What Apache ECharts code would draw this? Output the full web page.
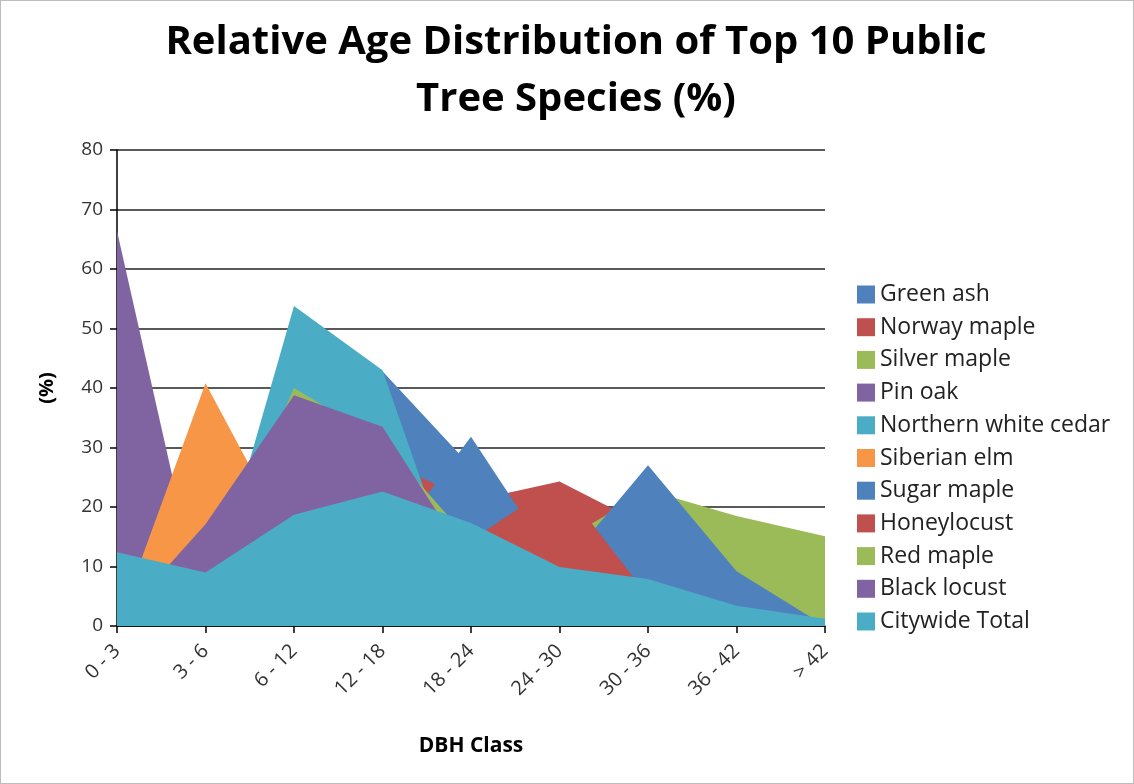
<!DOCTYPE html>
<html>
<head>
<meta charset="utf-8">
<script src="https://cdn.jsdelivr.net/npm/echarts@6/dist/echarts.min.js"></script>
<style>
  html, body { margin: 0; padding: 0; background: #fff; }
  #chart { width: 1134px; height: 784px; box-sizing: border-box; border: 1px solid #bdbdbd; }
</style>
</head>
<body>
<div id="chart"></div>
<script>
// DBH size classes (inches)
const categories = ['0 - 3', '3 - 6', '6 - 12', '12 - 18', '18 - 24', '24 - 30', '30 - 36', '36 - 42', '> 42'];

// Percent of each species' trees falling in each DBH class
const greenAsh           = [3, 5, 25, 42.8, 26.8, 12, 5, 2, 0.5];
const norwayMaple        = [5, 8, 20, 28, 21, 24.3, 16.7, 8, 2];
const silverMaple        = [5, 5, 15, 20, 12, 14, 22.8, 18.5, 15.1];
const pinOak             = [66.4, 0.5, 10, 8, 5, 3, 2, 1, 0.5];
const northernWhiteCedar = [0.5, 2, 53.8, 43.0, 0.4, 0.3, 0.2, 0.1, 0];
const siberianElm        = [0, 40.8, 13, 8, 4, 2, 1, 0.5, 0.3];
const sugarMaple         = [3, 4, 8, 12.2, 31.8, 9.3, 27.0, 9.2, 0];
const honeylocust        = [2, 3, 5, 10, 14.4, 24.3, 5.0, 2, 0.5];
const redMaple           = [5, 6, 40, 31, 14.1, 8, 5, 2, 0.5];
const blackLocust        = [0.5, 17.1, 38.8, 33.5, 10.2, 5, 4, 2, 0.5];
const citywideTotal      = [12.4, 9.0, 18.7, 22.6, 17.3, 9.9, 7.9, 3.4, 1.2];

const yTicks = { min: 0, max: 80, interval: 10 };

const BLUE = '#4F81BD', RED = '#C0504D', GREEN = '#9BBB59',
      PURPLE = '#8064A2', CYAN = '#4BACC6', ORANGE = '#F79646';

// Later entries are painted over earlier ones
const seriesDefs = [
  ['Green ash', greenAsh, BLUE],
  ['Norway maple', norwayMaple, RED],
  ['Silver maple', silverMaple, GREEN],
  ['Pin oak', pinOak, PURPLE],
  ['Northern white cedar', northernWhiteCedar, CYAN],
  ['Siberian elm', siberianElm, ORANGE],
  ['Sugar maple', sugarMaple, BLUE],
  ['Honeylocust', honeylocust, RED],
  ['Red maple', redMaple, GREEN],
  ['Black locust', blackLocust, PURPLE],
  ['Citywide Total', citywideTotal, CYAN]
];

const FONT = '"Open Sans", Lato, sans-serif';

const chart = echarts.init(document.getElementById('chart'), null, { renderer: 'canvas' });

chart.setOption({
  animation: false,
  backgroundColor: '#fff',
  textStyle: { fontFamily: FONT },
  title: {
    text: 'Relative Age Distribution of Top 10 Public\nTree Species (%)',
    left: 570,
    top: 8,
    textAlign: 'center',
    textStyle: { fontFamily: FONT, fontSize: 40, fontWeight: 'bold', color: '#000', lineHeight: 57 }
  },
  legend: {
    orient: 'vertical',
    left: 851,
    top: 277,
    icon: 'rect',
    itemWidth: 18,
    itemHeight: 18,
    itemGap: 9.7,
    textStyle: { fontFamily: FONT, fontSize: 23, color: '#222' },
    data: seriesDefs.map(d => d[0])
  },
  grid: { left: 116, right: 308, top: 149, bottom: 157, containLabel: false },
  xAxis: {
    type: 'category',
    data: categories,
    boundaryGap: false,
    name: 'DBH Class',
    nameLocation: 'middle',
    nameGap: 110,
    nameTextStyle: { fontFamily: FONT, fontSize: 21, fontWeight: 'bold', color: '#000' },
    axisLine: { show: true, lineStyle: { color: '#000', width: 1.5 } },
    axisTick: { show: true, alignWithLabel: true, length: 7, lineStyle: { color: '#000', width: 1.5 } },
    axisLabel: { rotate: 45, fontFamily: FONT, fontSize: 20, color: '#333', margin: 22, interval: 0 },
    splitLine: { show: false }
  },
  yAxis: {
    type: 'value',
    min: yTicks.min,
    max: yTicks.max,
    interval: yTicks.interval,
    name: '(%)',
    nameLocation: 'middle',
    nameGap: 60,
    nameRotate: 90,
    nameTextStyle: { fontFamily: FONT, fontSize: 20, fontWeight: 'bold', color: '#000' },
    axisLine: { show: true, lineStyle: { color: '#000', width: 1.5 } },
    axisTick: { show: true, inside: false, length: 7, lineStyle: { color: '#000', width: 1.5 } },
    axisLabel: { fontFamily: FONT, fontSize: 19, color: '#333', margin: 14 },
    splitLine: { show: true, lineStyle: { color: '#222', width: 1.6 } }
  },
  series: seriesDefs.map(([name, values, color]) => ({
    name: name,
    type: 'line',
    data: values,
    symbol: 'none',
    showSymbol: false,
    smooth: false,
    itemStyle: { color: color },
    lineStyle: { width: 0, color: color },
    areaStyle: { color: color, opacity: 1 },
    emphasis: { disabled: true }
  }))
});
</script>
</body>
</html>
